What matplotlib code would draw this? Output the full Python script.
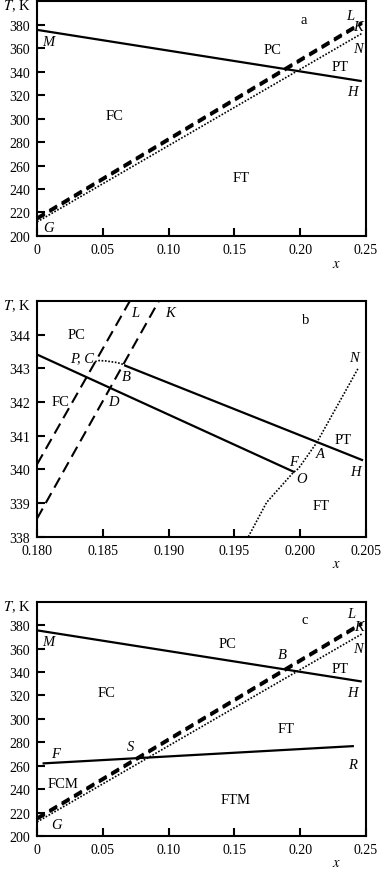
import matplotlib
matplotlib.use("Agg")
import matplotlib.pyplot as plt

plt.rcParams['font.family'] = ['Liberation Serif', 'DejaVu Serif']
plt.rcParams['mathtext.fontset'] = 'stix'

# ==== data: panels a and c (x, T in K) ====
mh_x = [0.0, 0.246]
mh_T = [375.5, 332.0]
gl_x = [0.0, 0.247]
gl_T = [215.5, 382.0]
gk_x = [0.0, 0.247]
gk_T = [214.3, 380.8]
gn_x = [0.0, 0.247]
gn_T = [212.0, 372.5]
fr_x = [0.005, 0.240]
fr_T = [262.0, 276.7]

# ==== data: panel b (zoom near the crossing) ====
b_lower_x = [0.180, 0.1995]
b_lower_T = [343.41, 339.93]
b_upper_x = [0.1867, 0.2047]
b_upper_T = [343.08, 340.28]
b_L_x = [0.180, 0.1872]
b_L_T = [340.15, 345.1]
b_K_x = [0.180, 0.1894]
b_K_T = [338.54, 345.1]
b_pc_x = [0.18441, 0.1847, 0.1852, 0.1861, 0.18669]
b_pc_T = [343.20, 343.23, 343.22, 343.17, 343.10]
b_N_x = [0.19606, 0.19745, 0.19948, 0.19986, 0.20125, 0.20442]
b_N_T = [338.0, 339.02, 339.91, 340.02, 340.79, 343.01]

ac_xticks = [0, 0.05, 0.10, 0.15, 0.20, 0.25]
ac_xlabels = ["0", "0.05", "0.10", "0.15", "0.20", "0.25"]
ac_yticks = [200, 220, 240, 260, 280, 300, 320, 340, 360, 380]
b_xticks = [0.180, 0.185, 0.190, 0.195, 0.200, 0.205]
b_xlabels = ["0.180", "0.185", "0.190", "0.195", "0.200", "0.205"]
b_yticks = [338, 339, 340, 341, 342, 343, 344]

# labels: (text, x, T, italic)
a_labels = [("a", 0.203, 384, False), ("L", 0.238, 388, True), ("K", 0.244, 378, True),
            ("N", 0.244, 360, True), ("PC", 0.179, 358.5, False), ("PT", 0.230, 344, False),
            ("H", 0.240, 323, True), ("M", 0.0086, 365.5, True), ("FC", 0.059, 302.5, False),
            ("FT", 0.155, 249.7, False), ("G", 0.009, 207, True)]
b_labels = [("b", 0.2004, 344.45, False), ("L", 0.1875, 344.66, True), ("K", 0.1901, 344.66, True),
            ("PC", 0.1830, 344.0, False), ("P, C", 0.1834, 343.31, True), ("B", 0.1868, 342.75, True),
            ("D", 0.1858, 342.03, True), ("FC", 0.18175, 342.03, False), ("N", 0.2041, 343.31, True),
            ("PT", 0.2033, 340.89, False), ("A", 0.2015, 340.48, True), ("H", 0.2042, 339.95, True),
            ("F", 0.1995, 340.22, True), ("O", 0.2001, 339.74, True), ("FT", 0.2016, 338.92, False)]
c_labels = [("c", 0.2038, 384.8, False), ("L", 0.2386, 389.9, True), ("K", 0.245, 378.6, True),
            ("N", 0.2436, 360.2, True), ("M", 0.0086, 365.9, True), ("PC", 0.1446, 364.4, False),
            ("B", 0.1865, 354.5, True), ("PT", 0.2304, 343.2, False), ("H", 0.2398, 322.8, True),
            ("FC", 0.0531, 322.8, False), ("FT", 0.189, 291.4, False), ("S", 0.0709, 276.1, True),
            ("F", 0.0137, 270.5, True), ("R", 0.2398, 261.1, True), ("FCM", 0.0201, 245, False),
            ("FTM", 0.1509, 231.4, False), ("G", 0.015, 209.6, True)]

fig = plt.figure(figsize=(3.82, 8.70), dpi=100)
ax_a = fig.add_axes([0.097, 0.7276, 0.861, 0.270])
ax_b = fig.add_axes([0.097, 0.3819, 0.861, 0.2710])
ax_c = fig.add_axes([0.097, 0.0379, 0.861, 0.2694])


def style(ax, xlim, ylim, xticks, xlabels, yticks):
    ax.set_xlim(*xlim)
    ax.set_ylim(*ylim)
    ax.set_xticks(xticks)
    ax.set_xticklabels(xlabels)
    ax.set_yticks(yticks)
    ax.tick_params(direction='in', length=6, width=1.5, top=False, right=False,
                   labelsize=10, pad=5)
    for s in ax.spines.values():
        s.set_linewidth(1.5)
    ax.text(-0.062, 0.982, "$T$, K", transform=ax.transAxes, ha='center', va='center',
            fontsize=10.5)
    ax.text(0.909, -0.115, "$x$", transform=ax.transAxes, ha='center', va='center',
            fontsize=10.5)


def put_labels(ax, labels):
    for txt, x, T, it in labels:
        ax.text(x, T, txt, ha='center', va='center', fontsize=10.5,
                style='italic' if it else 'normal')


def draw_ac(ax):
    ax.plot(mh_x, mh_T, color='black', lw=1.6)
    ax.plot(gl_x, gl_T, color='black', lw=2.0, dashes=(3.2, 2.0))
    ax.plot(gk_x, gk_T, color='black', lw=2.0, dashes=(3.2, 2.0))
    ax.plot(gn_x, gn_T, color='black', lw=1.2, dashes=(1, 1.0))


# ==== panel a ====
draw_ac(ax_a)
style(ax_a, (0, 0.25), (200, 400), ac_xticks, ac_xlabels, ac_yticks)
put_labels(ax_a, a_labels)

# ==== panel b ====
ax = ax_b
ax.plot(b_lower_x, b_lower_T, color='black', lw=1.6)
ax.plot(b_upper_x, b_upper_T, color='black', lw=1.6)
ax.plot(b_L_x, b_L_T, color='black', lw=1.5, dashes=(5.5, 3))
ax.plot(b_K_x, b_K_T, color='black', lw=1.5, dashes=(5.5, 3))
ax.plot(b_pc_x, b_pc_T, color='black', lw=1.2, dashes=(1, 1.0))
ax.plot(b_N_x, b_N_T, color='black', lw=1.2, dashes=(1, 1.0))
style(ax, (0.180, 0.205), (338, 345), b_xticks, b_xlabels, b_yticks)
put_labels(ax, b_labels)

# ==== panel c ====
draw_ac(ax_c)
ax_c.plot(fr_x, fr_T, color='black', lw=1.6)
style(ax_c, (0, 0.25), (200, 400), ac_xticks, ac_xlabels, ac_yticks)
put_labels(ax_c, c_labels)

fig.savefig("out.png", dpi=100)
